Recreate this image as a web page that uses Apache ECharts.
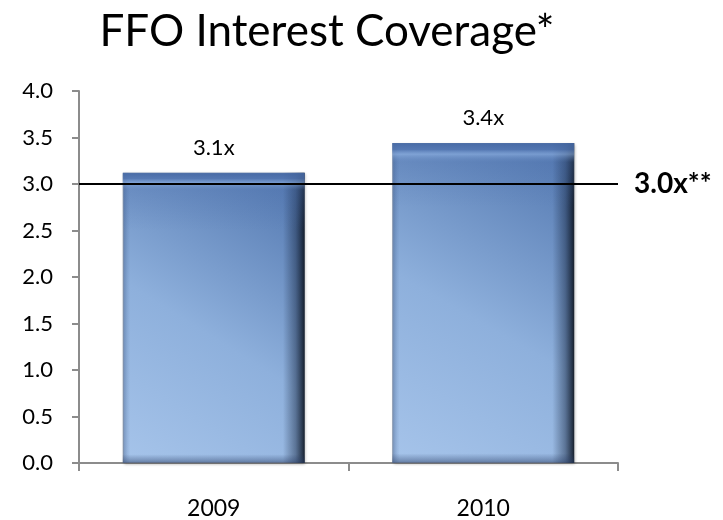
<!DOCTYPE html>
<html>
<head>
<meta charset="utf-8">
<script src="https://cdn.jsdelivr.net/npm/echarts@6/dist/echarts.min.js"></script>
<style>html,body{margin:0;padding:0;background:#fff}#c{width:723px;height:520px}</style>
</head>
<body>
<div id="c"></div>
<script>
const titleText = 'FFO Interest Coverage*';
const categories = ['2009', '2010'];
const values = [3.12, 3.44];
const valueLabels = ['3.1x', '3.4x'];
const yTicks = { min: 0, max: 4, interval: 0.5 };
const thresholdValue = 3.0;
const thresholdLabel = '3.0x**';

const FONT = 'Lato, "Open Sans", sans-serif';
const chart = echarts.init(document.getElementById('c'), null, { renderer: 'canvas' });

const baseGrad = new echarts.graphic.LinearGradient(0, 1, 1, 0, [
  { offset: 0, color: '#a6c4ea' },
  { offset: 0.45, color: '#8eb0dc' },
  { offset: 1, color: '#4f74ad' }
]);
const edgeGrad = new echarts.graphic.LinearGradient(0, 0, 1, 0, [
  { offset: 0, color: 'rgba(60,90,140,0.35)' },
  { offset: 0.04, color: 'rgba(60,90,140,0)' },
  { offset: 0.88, color: 'rgba(20,35,60,0)' },
  { offset: 0.95, color: 'rgba(20,35,60,0.45)' },
  { offset: 1, color: 'rgba(10,18,30,0.9)' }
]);
const topGrad = new echarts.graphic.LinearGradient(0, 0, 0, 1, [
  { offset: 0, color: 'rgba(70,105,165,0.9)' },
  { offset: 0.02, color: 'rgba(80,115,175,0.8)' },
  { offset: 0.035, color: 'rgba(140,175,225,0.6)' },
  { offset: 0.06, color: 'rgba(80,115,175,0.25)' },
  { offset: 0.2, color: 'rgba(80,115,175,0)' },
  { offset: 0.97, color: 'rgba(40,60,100,0)' },
  { offset: 1, color: 'rgba(40,60,100,0.5)' }
]);

chart.setOption({
  animation: false,
  title: {
    text: titleText, left: 322, top: 5, textAlign: 'center',
    textStyle: { fontFamily: FONT, fontSize: 44, fontWeight: 'normal', color: '#000' }
  },
  grid: { left: 79, right: 105, top: 91, bottom: 55 },
  xAxis: {
    type: 'category', data: categories,
    axisLine: { lineStyle: { color: '#8c8c8c', width: 2 } },
    axisTick: { show: true, length: 8, lineStyle: { color: '#8c8c8c', width: 2 } },
    axisLabel: { fontFamily: FONT, fontSize: 23, color: '#000', margin: 34 }
  },
  yAxis: {
    type: 'value', min: yTicks.min, max: yTicks.max, interval: yTicks.interval,
    axisLine: { show: true, lineStyle: { color: '#8c8c8c', width: 2 } },
    axisTick: { show: true, length: 7, lineStyle: { color: '#8c8c8c', width: 2 } },
    splitLine: { show: false },
    axisLabel: { fontFamily: FONT, fontSize: 22, color: '#000', margin: 26, formatter: v => v.toFixed(1) }
  },
  series: [
    {
      type: 'bar', data: values, barWidth: '67.5%',
      itemStyle: { color: baseGrad, borderColor: 'rgba(150,160,175,0.8)', borderWidth: 1,
        shadowColor: 'rgba(0,0,0,0.25)', shadowBlur: 3, shadowOffsetX: 1, shadowOffsetY: 1 },
      markLine: {
        silent: true, symbol: 'none',
        lineStyle: { color: '#000', width: 2, type: 'solid' },
        label: { show: true, position: 'end', formatter: thresholdLabel, distance: 16,
          fontFamily: FONT, fontSize: 28, fontWeight: 'bold', color: '#000' },
        data: [{ yAxis: thresholdValue }]
      },
      z: 2
    },
    {
      type: 'bar', data: values, barWidth: '67.5%', barGap: '-100%',
      itemStyle: { color: edgeGrad }, z: 3, silent: true
    },
    {
      type: 'bar', data: values, barWidth: '67.5%', barGap: '-100%',
      itemStyle: { color: topGrad }, z: 4, silent: true,
      label: { show: true, position: 'top', distance: 14, fontFamily: FONT, fontSize: 22, color: '#000',
        formatter: p => valueLabels[p.dataIndex] }
    }
  ]
});
</script>
</body>
</html>
